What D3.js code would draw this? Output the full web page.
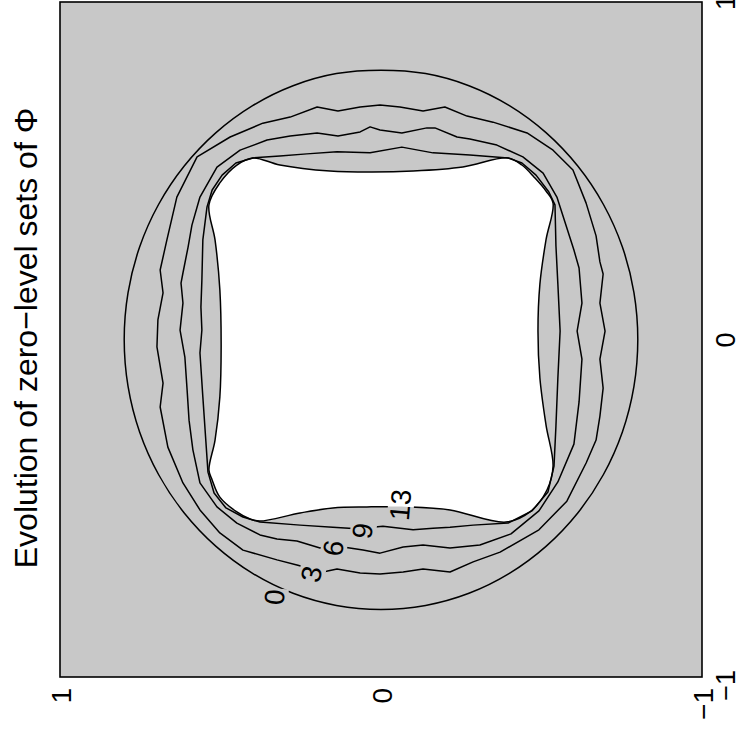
<!DOCTYPE html>
<html>
<head>
<meta charset="utf-8">
<script src="https://cdn.jsdelivr.net/npm/d3@7"></script>
<style>
  body { margin: 0; background: #ffffff; }
  text { font-family: "Liberation Sans", Arial, Helvetica, sans-serif; fill: #000; }
</style>
</head>
<body>
<svg id="chart" width="741" height="738"></svg>
<script>
// ---- data -------------------------------------------------------------
const titleText = "Evolution of zero\u2212level sets of \u03A6";
const bottomTicks = [1, 0, -1];
const rightTicks = [1, 0, -1];
const levelNames = ["0", "3", "6", "9", "13"];

// zero-level set at iteration 0 (initial circle)
const contour0 = [[0,0.798],[0.139,0.788],[0.274,0.752],[0.4,0.693],[0.514,0.613],[0.613,0.514],
  [0.693,0.4],[0.752,0.274],[0.788,0.139],[0.8,0],[0.788,-0.139],[0.752,-0.274],[0.693,-0.4],
  [0.613,-0.514],[0.514,-0.613],[0.4,-0.693],[0.274,-0.752],[0.139,-0.788],[0,-0.8],
  [-0.139,-0.788],[-0.274,-0.752],[-0.4,-0.693],[-0.514,-0.613],[-0.613,-0.514],[-0.693,-0.4],
  [-0.752,-0.274],[-0.788,-0.139],[-0.8,0],[-0.788,0.139],[-0.752,0.274],[-0.693,0.4],
  [-0.613,0.514],[-0.514,0.613],[-0.4,0.693],[-0.274,0.752],[-0.139,0.788]];

// iteration 3
const contour3 = [[0.470,0.600],[0.368,0.641],[0.283,0.659],[0.199,0.689],[0.134,0.677],[0.065,0.689],
  [0.003,0.695],[-0.059,0.689],[-0.131,0.677],[-0.199,0.689],[-0.268,0.662],[-0.349,0.644],
  [-0.455,0.612],[-0.536,0.561],[-0.598,0.502],[-0.639,0.404],[-0.670,0.307],[-0.682,0.230],
  [-0.692,0.194],[-0.682,0.108],[-0.698,0.025],[-0.682,-0.058],[-0.692,-0.144],[-0.682,-0.227],
  [-0.670,-0.298],[-0.639,-0.366],[-0.579,-0.479],[-0.492,-0.564],[-0.371,-0.630],[-0.287,-0.659],
  [-0.215,-0.689],[-0.131,-0.680],[-0.069,-0.689],[0.003,-0.695],[0.065,-0.692],[0.137,-0.680],
  [0.181,-0.689],[0.262,-0.668],[0.324,-0.653],[0.430,-0.624],[0.502,-0.573],[0.564,-0.505],
  [0.617,-0.425],[0.664,-0.319],[0.688,-0.200],[0.679,-0.129],[0.698,-0.022],[0.695,0.058],
  [0.679,0.138],[0.688,0.206],[0.667,0.295],[0.636,0.422],[0.573,0.541]];

// iteration 6
const contour6 = [[0.439,0.561],[0.355,0.591],[0.283,0.603],[0.199,0.612],[0.134,0.603],[0.065,0.615],
  [0.034,0.630],[0.003,0.621],[-0.065,0.612],[-0.143,0.627],[-0.168,0.627],[-0.237,0.600],
  [-0.277,0.594],[-0.361,0.576],[-0.442,0.541],[-0.505,0.493],[-0.548,0.422],[-0.576,0.339],
  [-0.601,0.265],[-0.617,0.212],[-0.626,0.108],[-0.611,0.025],[-0.626,-0.058],[-0.617,-0.185],
  [-0.601,-0.310],[-0.551,-0.422],[-0.492,-0.508],[-0.405,-0.576],[-0.308,-0.609],[-0.215,-0.618],
  [-0.131,-0.609],[-0.069,-0.615],[0.003,-0.633],[0.056,-0.624],[0.118,-0.615],[0.190,-0.618],
  [0.262,-0.597],[0.324,-0.591],[0.377,-0.579],[0.449,-0.544],[0.511,-0.496],[0.564,-0.425],
  [0.586,-0.327],[0.598,-0.239],[0.604,-0.150],[0.611,-0.052],[0.626,0.028],[0.617,0.108],
  [0.623,0.167],[0.617,0.197],[0.601,0.274],[0.589,0.339],[0.564,0.422],[0.511,0.511]];

// iteration 9
const contour9 = [[0.399,0.538],[0.315,0.544],[0.231,0.550],[0.137,0.556],[0.034,0.553],[-0.065,0.570],
  [-0.162,0.553],[-0.277,0.547],[-0.396,0.538],[-0.439,0.523],[-0.483,0.487],[-0.523,0.437],
  [-0.542,0.399],[-0.545,0.277],[-0.551,0.164],[-0.558,0.025],[-0.551,-0.114],[-0.545,-0.256],
  [-0.539,-0.375],[-0.520,-0.452],[-0.470,-0.508],[-0.396,-0.544],[-0.287,-0.550],[-0.215,-0.556],
  [-0.162,-0.559],[-0.100,-0.564],[-0.006,-0.553],[0.075,-0.561],[0.150,-0.556],[0.252,-0.550],
  [0.377,-0.541],[0.430,-0.526],[0.483,-0.499],[0.520,-0.455],[0.539,-0.393],[0.548,-0.268],
  [0.555,-0.170],[0.564,-0.040],[0.558,0.028],[0.561,0.096],[0.558,0.176],[0.555,0.295],
  [0.542,0.393],[0.526,0.443],[0.495,0.487],[0.452,0.523]];

// iteration 13 (final front; its interior is left unshaded)
const contour13 = [[0.399,0.538],[0.315,0.517],[0.159,0.499],[0.028,0.496],[-0.100,0.499],[-0.255,0.511],
  [-0.396,0.538],[-0.439,0.517],[-0.477,0.481],[-0.514,0.440],[-0.536,0.404],[-0.514,0.295],
  [-0.495,0.164],[-0.489,0.025],[-0.495,-0.114],[-0.514,-0.253],[-0.536,-0.375],[-0.517,-0.446],
  [-0.464,-0.511],[-0.389,-0.541],[-0.215,-0.505],[-0.090,-0.496],[0.044,-0.496],[0.150,-0.499],
  [0.252,-0.514],[0.377,-0.538],[0.408,-0.532],[0.449,-0.511],[0.502,-0.467],[0.526,-0.416],
  [0.536,-0.387],[0.517,-0.298],[0.502,-0.170],[0.498,-0.022],[0.502,0.147],[0.517,0.295],
  [0.536,0.399],[0.502,0.464],[0.449,0.517]];

// label anchor for each level, in data units
const labelAt = [[0.333,-0.763],[0.218,-0.695],[0.150,-0.618],[0.059,-0.567],[-0.059,-0.490]];
const labelTilt = [-85, -78, -80, -82, -85];

// ---- layout -----------------------------------------------------------
const W = 741, H = 738;
const plot = { left: 60, right: 702, top: 2, bottom: 677 };
const grey = "#c8c8c8";

const svg = d3.select("#chart");
const x = d3.scaleLinear().domain([1, -1]).range([plot.left, plot.right]);
const y = d3.scaleLinear().domain([1, -1]).range([plot.top, plot.bottom]);

const smoothLine = d3.line().x(d => x(d[0])).y(d => y(d[1])).curve(d3.curveCatmullRomClosed.alpha(0.5));
const polyLine = d3.line().x(d => x(d[0])).y(d => y(d[1])).curve(d3.curveLinearClosed);

// shaded field, with the final interior left white
svg.append("rect")
  .attr("x", plot.left).attr("y", plot.top)
  .attr("width", plot.right - plot.left).attr("height", plot.bottom - plot.top)
  .attr("fill", grey);
svg.append("path").attr("d", smoothLine(contour13)).attr("fill", "#ffffff");

// gaps in the lines under the level labels
const defs = svg.append("defs");
const mask = defs.append("mask").attr("id", "labelGaps")
  .attr("maskUnits", "userSpaceOnUse")
  .attr("x", 0).attr("y", 0).attr("width", W).attr("height", H);
mask.append("rect").attr("x", 0).attr("y", 0).attr("width", W).attr("height", H).attr("fill", "#fff");

const lines = svg.append("g").attr("mask", "url(#labelGaps)")
  .attr("fill", "none").attr("stroke", "#000").attr("stroke-width", 1.5)
  .attr("stroke-linejoin", "round");
lines.append("path").attr("d", smoothLine(contour0));
[contour3, contour6, contour9].forEach(c => lines.append("path").attr("d", polyLine(c)));
lines.append("path").attr("d", smoothLine(contour13));

// level labels
const labels = svg.append("g");
levelNames.forEach((name, i) => {
  const tr = `translate(${x(labelAt[i][0])},${y(labelAt[i][1])}) rotate(${labelTilt[i]})`;
  const t = labels.append("text")
    .attr("transform", tr)
    .attr("text-anchor", "middle")
    .attr("dy", "0.36em")
    .attr("font-size", 28)
    .text(name);
  const b = t.node().getBBox();
  mask.append("rect")
    .attr("transform", tr)
    .attr("x", b.x - 1).attr("y", b.y + 3)
    .attr("width", b.width + 2).attr("height", b.height - 5)
    .attr("fill", "#000");
});

// frame
svg.append("rect")
  .attr("x", plot.left).attr("y", plot.top)
  .attr("width", plot.right - plot.left).attr("height", plot.bottom - plot.top)
  .attr("fill", "none").attr("stroke", "#000").attr("stroke-width", 1.6);

const fmt = d => d < 0 ? "\u2212" + Math.abs(d) : String(d);

// bottom axis
const axB = svg.append("g")
  .attr("transform", `translate(0,${plot.bottom})`)
  .call(d3.axisBottom(x).tickValues(bottomTicks).tickSize(0).tickFormat(fmt));
axB.select(".domain").remove();
axB.selectAll("text")
  .attr("x", 0).attr("y", 0).attr("dy", "0.36em")
  .attr("transform", "translate(0,11) rotate(-90)")
  .attr("text-anchor", "end")
  .attr("font-size", 28)
  .attr("font-family", null);

// right axis
const axR = svg.append("g")
  .attr("transform", `translate(${plot.right},0)`)
  .call(d3.axisRight(y).tickValues(rightTicks).tickSize(0).tickFormat(fmt));
axR.select(".domain").remove();
axR.selectAll("text")
  .attr("x", "0.278em").attr("y", 0).attr("dy", 0)
  .attr("transform", "translate(33,0) rotate(-90)")
  .attr("text-anchor", "end")
  .attr("font-size", 27)
  .attr("font-family", null);

// title
svg.append("text")
  .attr("transform", `translate(37,338) rotate(-90)`)
  .attr("text-anchor", "middle")
  .attr("font-size", 32)
  .text(titleText);
</script>
</body>
</html>
